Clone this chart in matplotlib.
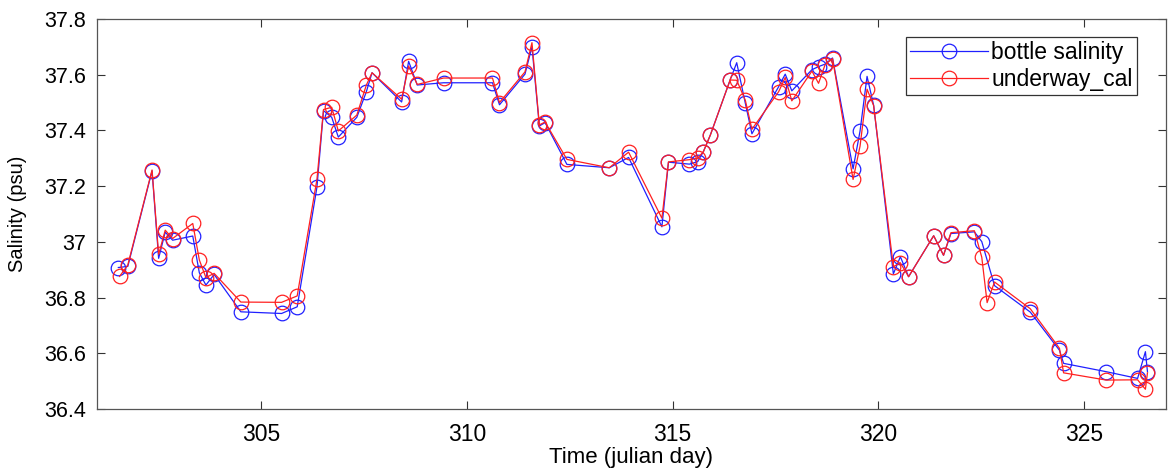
import matplotlib
matplotlib.use("Agg")
import matplotlib.pyplot as plt

plt.rcParams['font.family'] = ['Liberation Sans', 'DejaVu Sans']

# bottle salinity (blue)
bottle_day = [301.52, 301.75, 302.34, 302.50, 302.66, 302.84, 303.33, 303.49, 303.65, 303.85,
              304.50, 305.49, 305.87, 306.35, 306.51, 306.71, 306.87, 307.32, 307.55, 307.69,
              308.41, 308.58, 308.79, 309.43, 310.62, 310.79, 311.41, 311.58, 311.76, 311.90,
              312.43, 313.46, 313.93, 314.74, 314.90, 315.41, 315.61, 315.75, 315.92, 316.40,
              316.56, 316.77, 316.93, 317.58, 317.74, 317.90, 318.39, 318.55, 318.71, 318.89,
              319.39, 319.56, 319.73, 319.89, 320.37, 320.54, 320.74, 321.35, 321.59, 321.77,
              322.34, 322.52, 322.83, 323.70, 324.41, 324.51, 325.55, 326.31, 326.50, 326.55]
bottle_sal = [36.908, 36.912, 37.255, 36.941, 37.035, 37.006, 37.021, 36.889, 36.845, 36.883,
              36.749, 36.743, 36.767, 37.196, 37.471, 37.447, 37.376, 37.447, 37.538, 37.607,
              37.502, 37.648, 37.563, 37.571, 37.571, 37.492, 37.602, 37.700, 37.416, 37.428,
              37.278, 37.266, 37.303, 37.054, 37.286, 37.279, 37.288, 37.324, 37.384, 37.581,
              37.643, 37.497, 37.388, 37.557, 37.602, 37.542, 37.618, 37.629, 37.638, 37.660,
              37.262, 37.398, 37.594, 37.490, 36.885, 36.947, 36.875, 37.022, 36.952, 37.030,
              37.036, 37.001, 36.843, 36.748, 36.611, 36.564, 36.534, 36.510, 36.606, 36.534]

# underway_cal (red)
underway_day = [301.55, 301.75, 302.34, 302.50, 302.66, 302.84, 303.33, 303.49, 303.65, 303.85,
                304.50, 305.49, 305.87, 306.35, 306.51, 306.71, 306.87, 307.32, 307.55, 307.69,
                308.41, 308.58, 308.79, 309.43, 310.62, 310.79, 311.41, 311.58, 311.76, 311.90,
                312.43, 313.46, 313.93, 314.74, 314.90, 315.41, 315.61, 315.75, 315.92, 316.40,
                316.56, 316.77, 316.93, 317.58, 317.74, 317.90, 318.39, 318.55, 318.71, 318.89,
                319.39, 319.56, 319.73, 319.89, 320.37, 320.54, 320.74, 321.35, 321.59, 321.77,
                322.34, 322.52, 322.65, 322.83, 323.70, 324.41, 324.51, 325.55, 326.31, 326.50,
                326.55]
underway_sal = [36.876, 36.917, 37.258, 36.955, 37.042, 37.012, 37.066, 36.935, 36.872, 36.887,
                36.784, 36.783, 36.806, 37.224, 37.475, 37.483, 37.398, 37.455, 37.562, 37.607,
                37.512, 37.631, 37.565, 37.588, 37.588, 37.500, 37.610, 37.715, 37.420, 37.430,
                37.296, 37.266, 37.322, 37.085, 37.287, 37.295, 37.300, 37.324, 37.384, 37.581,
                37.580, 37.508, 37.404, 37.539, 37.590, 37.506, 37.613, 37.569, 37.636, 37.658,
                37.224, 37.344, 37.548, 37.489, 36.911, 36.925, 36.875, 37.022, 36.952, 37.033,
                37.040, 36.945, 36.782, 36.856, 36.760, 36.618, 36.530, 36.504, 36.505, 36.471,
                36.530]

fig = plt.figure(figsize=(11.71, 4.74), dpi=100)
ax = fig.add_axes([0.0828, 0.137, 0.9129, 0.823])

ax.plot(bottle_day, bottle_sal, '-o', color='#2020ff', lw=0.9, ms=10.5,
        mfc='none', mew=0.9, label='bottle salinity')
ax.plot(underway_day, underway_sal, '-o', color='#ff2020', lw=0.9, ms=10.5,
        mfc='none', mew=0.9, label='underway_cal')

ax.set_xlim(301, 327)
ax.set_ylim(36.4, 37.8)
ax.set_xticks([305, 310, 315, 320, 325])
ax.set_yticks([36.4, 36.6, 36.8, 37.0, 37.2, 37.4, 37.6, 37.8])
ax.set_yticklabels(['36.4', '36.6', '36.8', '37', '37.2', '37.4', '37.6', '37.8'])
ax.tick_params(direction='in', top=True, right=True, length=6, width=0.8,
               color='#333333', labelsize=15.5)
ax.tick_params(axis='x', pad=10, labelsize=16.5)
ax.tick_params(axis='y', pad=8)
for s in ax.spines.values():
    s.set_color('#555555')
    s.set_linewidth(0.9)

ax.set_xlabel('Time (julian day)', fontsize=16, labelpad=1)
ax.set_ylabel('Salinity (psu)', fontsize=14.5, labelpad=12)

leg = ax.legend(loc='upper right', bbox_to_anchor=(0.973, 0.955), fontsize=16.5,
                frameon=True, fancybox=False, edgecolor='#333333', framealpha=1,
                handlelength=3.4, handletextpad=0.12, borderpad=0.2,
                labelspacing=0.15, borderaxespad=0)
leg.get_frame().set_linewidth(0.9)

fig.savefig('out.png', dpi=100)
